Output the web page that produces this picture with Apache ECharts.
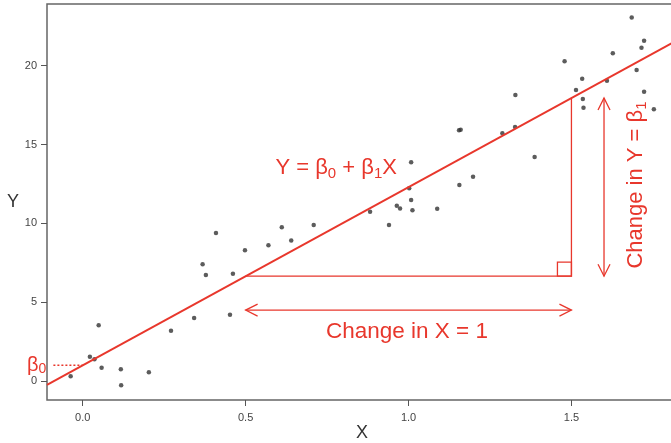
<!DOCTYPE html>
<html>
<head>
<meta charset="utf-8">
<script src="https://cdn.jsdelivr.net/npm/echarts@6/dist/echarts.min.js"></script>
<style>
  html, body { margin: 0; padding: 0; background: #fff; }
  #chart { width: 671px; height: 443px; }
</style>
</head>
<body>
<div id="chart"></div>
<script>
// scatter points
const xs = [-0.037, 0.049, 0.022, 0.036, 0.058, 0.117, 0.118, 0.203, 0.271, 0.342,
  0.368, 0.378, 0.409, 0.452, 0.461, 0.498, 0.570, 0.611, 0.640, 0.709,
  0.940, 0.882, 0.964, 0.974, 1.002, 1.008, 1.012, 1.088, 1.008, 1.155,
  1.160, 1.156, 1.198, 1.288, 1.327, 1.328, 1.387, 1.479, 1.514, 1.533,
  1.535, 1.537, 1.609, 1.627, 1.685, 1.700, 1.715, 1.723, 1.723, 1.753]
const ys = [0.30, 3.53, 1.54, 1.38, 0.84, 0.74, -0.27, 0.55, 3.19, 4.00,
  7.40, 6.72, 9.39, 4.21, 6.81, 8.29, 8.61, 9.75, 8.92, 9.90,
  9.90, 10.74, 11.12, 10.95, 12.22, 11.48, 10.83, 10.93, 13.87, 15.90,
  15.94, 12.43, 12.96, 15.71, 16.11, 18.14, 14.21, 20.28, 18.46, 19.18,
  17.89, 17.34, 19.05, 20.79, 23.05, 19.73, 21.14, 21.59, 18.35, 17.23]

// fitted line
const beta0 = 1.0
const beta1 = 11.3

const xTicks = [0, 0.5, 1, 1.5]
const xTickLabels = ['0.0', '0.5', '1.0', '1.5']
const yTicks = [0, 5, 10, 15, 20]

// axis ranges
const xMin = -0.1096
const xMax = 1.824
const yMin = -1.205
const yMax = 23.914

const red = '#e8372c'
const font = '"Liberation Sans", Arial, sans-serif'
const fit = x => beta0 + beta1 * x

let myChart = echarts.init(document.getElementById('chart'))

let points = xs.map((x, i) => [x, ys[i]])

function arrowHead (tip, from, len, half) {
  let dx = tip[0] - from[0]
  let dy = tip[1] - from[1]
  let d = Math.sqrt(dx * dx + dy * dy)
  let ux = dx / d
  let uy = dy / d
  let bx = tip[0] - ux * len
  let by = tip[1] - uy * len
  return [[bx - uy * half, by + ux * half], tip, [bx + uy * half, by - ux * half]]
}

function renderAnnot (params, api) {
  let lineStyle = {stroke: red, lineWidth: 1.3, fill: null}
  let children = []
  let p0 = api.coord([0.5, fit(0.5)])
  let p1 = api.coord([1.5, fit(0.5)])
  let p2 = api.coord([1.5, fit(1.5)])
  // triangle under the line
  children.push({type: 'polyline', shape: {points: [p0, p1, p2]}, style: lineStyle})
  children.push({type: 'rect', shape: {x: p1[0] - 14, y: p1[1] - 14, width: 14, height: 14}, style: lineStyle})

  // change in X arrow
  let a0 = api.coord([0.5, 4.5])
  let a1 = api.coord([1.5, 4.5])
  children.push({type: 'line', shape: {x1: a0[0], y1: a0[1], x2: a1[0], y2: a1[1]}, style: lineStyle})
  children.push({type: 'polyline', shape: {points: arrowHead(a0, a1, 12, 6)}, style: lineStyle})
  children.push({type: 'polyline', shape: {points: arrowHead(a1, a0, 12, 6)}, style: lineStyle})

  // change in Y arrow
  let v0 = api.coord([1.6, fit(0.5)])
  let v1 = api.coord([1.6, fit(1.5)])
  children.push({type: 'line', shape: {x1: v0[0], y1: v0[1], x2: v1[0], y2: v1[1]}, style: lineStyle})
  children.push({type: 'polyline', shape: {points: arrowHead(v0, v1, 12, 6)}, style: lineStyle})
  children.push({type: 'polyline', shape: {points: arrowHead(v1, v0, 12, 6)}, style: lineStyle})

  // beta0 dotted marker
  let b0 = api.coord([-0.09, beta0])
  let b1 = api.coord([0, beta0])
  children.push({type: 'line', shape: {x1: b0[0], y1: b0[1], x2: b1[0], y2: b1[1]},
    style: {stroke: red, lineWidth: 1.5, lineDash: [2, 2]}})

  let rich = {
    m: {fontSize: 22, lineHeight: 26, fill: red, fontFamily: font},
    s: {fontSize: 15, lineHeight: 11, fill: red, fontFamily: font, verticalAlign: 'bottom'}
  }
  let eq = api.coord([0.778, 13.5])
  children.push({type: 'text', x: eq[0], y: eq[1],
    style: {text: '{m|Y = β}{s|0}{m| + β}{s|1}{m|X}', rich: rich, align: 'center', verticalAlign: 'middle', fill: red, font: '22px ' + font}})
  let cx = api.coord([0.995, 3.1])
  children.push({type: 'text', x: cx[0], y: cx[1],
    style: {text: 'Change in X = 1', fill: red, font: '22.5px ' + font, align: 'center', verticalAlign: 'middle'}})
  let cy = api.coord([1.698, 12.43])
  children.push({type: 'text', x: cy[0], y: cy[1], rotation: Math.PI / 2,
    style: {text: '{m|Change in Y = β}{s|1}', rich: rich, align: 'center', verticalAlign: 'middle', fill: red, font: '22px ' + font}})
  let bl = api.coord([-0.112, beta0])
  children.push({type: 'text', x: bl[0], y: bl[1],
    style: {text: '{m|β}{s|0}', rich: {
      m: {fontSize: 20, lineHeight: 22, fill: red, fontFamily: font},
      s: {fontSize: 14, lineHeight: 10, fill: red, fontFamily: font, verticalAlign: 'bottom'}
    }, align: 'right', verticalAlign: 'middle', fill: red, font: '20px ' + font}})
  return {type: 'group', children: children}
}

let option = {
  animation: false,
  backgroundColor: '#fff',
  grid: {
    left: 47,
    top: 4,
    right: -6,
    bottom: 43,
    outerBoundsMode: 'none',
    containLabel: false,
    show: true,
    borderColor: '#666',
    borderWidth: 1.5
  },
  xAxis: {
    type: 'value',
    min: xMin,
    max: xMax,
    name: 'X',
    nameLocation: 'middle',
    nameMoveOverlap: false,
    nameGap: 24,
    nameTextStyle: {fontSize: 18, color: '#333', fontFamily: font},
    splitLine: {show: false},
    axisLine: {show: false, onZero: false},
    axisTick: {show: true, length: 6, customValues: xTicks, lineStyle: {color: '#555'}},
    axisLabel: {
      customValues: xTicks,
      margin: 12,
      fontSize: 11,
      color: '#444',
      fontFamily: font,
      formatter: v => xTickLabels[xTicks.indexOf(v)]
    }
  },
  yAxis: {
    type: 'value',
    min: yMin,
    max: yMax,
    name: 'Y',
    nameLocation: 'middle',
    nameMoveOverlap: false,
    nameRotate: 0,
    nameGap: 28,
    nameTextStyle: {fontSize: 18, color: '#333', fontFamily: font},
    splitLine: {show: false},
    axisLine: {show: false, onZero: false},
    axisTick: {show: true, length: 6, customValues: yTicks, lineStyle: {color: '#555'}},
    axisLabel: {customValues: yTicks, margin: 10, fontSize: 11, color: '#444', fontFamily: font}
  },
  series: [
    {
      name: 'data',
      type: 'scatter',
      symbolSize: 4.5,
      itemStyle: {color: '#333'},
      data: points
    },
    {
      name: 'fit',
      type: 'line',
      showSymbol: false,
      symbol: 'none',
      lineStyle: {color: red, width: 2},
      data: [[xMin, fit(xMin)], [xMax, fit(xMax)]]
    },
    {
      name: 'annot',
      type: 'custom',
      renderItem: renderAnnot,
      silent: true,
      data: [[0, 0]]
    }
  ]
}
myChart.setOption(option)
</script>
</body>
</html>
